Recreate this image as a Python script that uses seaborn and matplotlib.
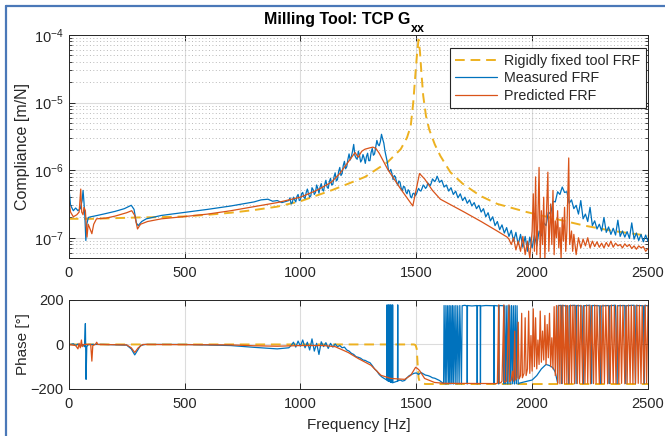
import numpy as np
import matplotlib
matplotlib.use("Agg")
import matplotlib.pyplot as plt
import seaborn as sns
from matplotlib.lines import Line2D
from matplotlib.ticker import LogLocator, NullFormatter

# ---- data (frequency [Hz], log10 compliance [m/N]) ----
rigid_mag = [(0, -6.72), (100, -6.72), (200, -6.71), (300, -6.70), (400, -6.695), (500, -6.685),
             (600, -6.66), (700, -6.63), (800, -6.59), (900, -6.54), (1000, -6.46), (1133, -6.30),
             (1200, -6.21), (1279, -6.10), (1377, -5.88), (1433, -5.69), (1460, -5.52), (1476, -5.35),
             (1487, -5.0), (1497, -4.55), (1504, -4.25), (1510, -4.07), (1516, -4.25), (1522, -4.55),
             (1530, -4.9), (1542, -5.2), (1556, -5.40), (1580, -5.62), (1604, -5.79), (1647, -6.03),
             (1700, -6.20), (1776, -6.38), (1850, -6.50), (1977, -6.62), (2100, -6.72),
             (2225, -6.82), (2350, -6.90), (2500, -6.97)]

measured_mag = [(0, -6.22), (8, -6.52), (20, -6.60), (30, -6.56), (40, -6.60), (50, -6.57), (58, -6.45),
                (62, -6.30), (66, -6.48), (70, -6.70), (74, -7.04), (78, -6.80), (85, -6.70), (95, -6.69),
                (110, -6.68), (150, -6.65), (200, -6.61), (240, -6.57), (270, -6.52), (282, -6.58),
                (292, -6.78), (300, -6.82), (315, -6.76), (335, -6.72), (400, -6.67), (490, -6.63),
                (600, -6.58), (700, -6.53), (750, -6.50), (800, -6.47), (830, -6.44), (860, -6.43),
                (880, -6.46), (900, -6.45), (920, -6.48), (940, -6.46),
                (950, -6.45), (960, -6.50), (970, -6.40), (980, -6.47), (990, -6.36), (1000, -6.44),
                (1010, -6.33), (1020, -6.42), (1030, -6.28), (1040, -6.40), (1050, -6.26), (1060, -6.36),
                (1070, -6.22), (1080, -6.34), (1090, -6.20), (1100, -6.31), (1110, -6.15), (1120, -6.27),
                (1130, -6.12), (1140, -6.21), (1150, -6.04), (1160, -6.14), (1170, -5.96), (1180, -6.05),
                (1190, -5.87), (1200, -5.95), (1210, -5.76), (1220, -5.80), (1230, -5.62), (1240, -5.82),
                (1250, -5.72), (1260, -5.88), (1270, -5.77), (1280, -5.90), (1290, -5.75), (1300, -5.86),
                (1310, -5.68), (1320, -5.76), (1330, -5.56), (1340, -5.64), (1350, -5.47), (1360, -5.60),
                (1370, -5.80), (1380, -6.00), (1390, -5.99), (1400, -6.14), (1410, -6.10), (1420, -6.22),
                (1430, -6.18), (1440, -6.30), (1450, -6.25), (1460, -6.35), (1470, -6.31), (1480, -6.41),
                (1490, -6.34), (1500, -6.36), (1510, -6.27), (1520, -6.31), (1530, -6.22), (1540, -6.27),
                (1550, -6.19), (1560, -6.23), (1570, -6.13), (1580, -6.17), (1590, -6.09), (1600, -6.18),
                (1610, -6.15), (1620, -6.25), (1630, -6.22), (1640, -6.31), (1650, -6.26), (1660, -6.36),
                (1670, -6.31), (1680, -6.41), (1690, -6.35), (1700, -6.45), (1710, -6.40), (1720, -6.49),
                (1730, -6.44), (1740, -6.53), (1750, -6.48), (1760, -6.57), (1770, -6.52), (1780, -6.62),
                (1790, -6.57), (1800, -6.69), (1810, -6.63), (1820, -6.75), (1830, -6.69), (1840, -6.82),
                (1850, -6.76), (1860, -6.88), (1870, -6.81), (1880, -6.93), (1890, -6.85), (1900, -6.98),
                (1910, -6.89), (1920, -7.05), (1930, -6.92), (1940, -7.10), (1950, -6.95), (1960, -7.14),
                (1970, -6.98), (1980, -7.20), (1990, -6.99), (2000, -7.15), (2010, -6.96), (2020, -7.12),
                (2030, -6.90), (2040, -6.97), (2050, -6.78), (2060, -6.82), (2070, -6.62), (2080, -6.65),
                (2090, -6.46), (2100, -6.47), (2110, -6.32), (2120, -6.36), (2130, -6.25), (2140, -6.33),
                (2150, -6.32), (2160, -6.49), (2170, -6.44), (2180, -6.57), (2190, -6.52), (2200, -6.65),
                (2210, -6.45), (2220, -6.72), (2230, -6.65), (2240, -6.76), (2250, -6.55), (2260, -6.82),
                (2270, -6.75), (2280, -6.87), (2290, -6.80), (2300, -6.90), (2310, -6.70), (2320, -6.92),
                (2330, -6.84), (2340, -6.95), (2350, -6.86), (2360, -6.96), (2370, -6.74), (2380, -6.98),
                (2390, -6.90), (2400, -6.99), (2410, -6.91), (2420, -7.01), (2430, -6.78), (2440, -7.02),
                (2450, -6.93), (2460, -7.04), (2470, -6.95), (2480, -7.06), (2490, -6.96), (2500, -7.05)]

# extra in-between samples of the noisy measured band (955 ... 1595 Hz)
measured_mag_fine = [(955, -6.41), (965, -6.48), (975, -6.44), (985, -6.39), (995, -6.45), (1005, -6.35),
                     (1015, -6.40), (1025, -6.33), (1035, -6.35), (1045, -6.38), (1055, -6.29),
                     (1065, -6.33), (1075, -6.27), (1085, -6.25), (1095, -6.29), (1105, -6.21),
                     (1115, -6.25), (1125, -6.17), (1135, -6.22), (1145, -6.10), (1155, -6.16),
                     (1165, -6.02), (1175, -6.08), (1185, -5.93), (1195, -5.98), (1205, -5.84),
                     (1215, -5.85), (1225, -5.72), (1235, -5.78), (1245, -5.84), (1255, -5.78),
                     (1265, -5.85), (1275, -5.82), (1285, -5.80), (1295, -5.86), (1305, -5.74),
                     (1315, -5.78), (1325, -5.66), (1335, -5.62), (1345, -5.58), (1355, -5.54),
                     (1365, -5.72), (1375, -5.88), (1385, -6.02), (1395, -6.05), (1405, -6.08),
                     (1415, -6.18), (1425, -6.16), (1435, -6.27), (1445, -6.24), (1455, -6.32),
                     (1465, -6.29), (1475, -6.39), (1485, -6.35), (1495, -6.38), (1505, -6.31),
                     (1515, -6.30), (1525, -6.27), (1535, -6.24), (1545, -6.25), (1555, -6.21),
                     (1565, -6.19), (1575, -6.15), (1585, -6.14), (1595, -6.13)]

predicted_mag = [(0, -6.43), (8, -6.62), (20, -6.69), (35, -6.66), (45, -6.62), (52, -6.28), (56, -6.62),
                 (62, -6.66), (66, -6.55), (72, -6.60), (79, -6.99), (84, -6.80), (90, -6.85), (100, -6.94),
                 (108, -6.80), (120, -6.72), (160, -6.71), (200, -6.68), (250, -6.63), (272, -6.60),
                 (285, -6.67), (297, -6.87), (310, -6.80), (340, -6.76), (400, -6.72), (490, -6.69),
                 (600, -6.65), (700, -6.60), (800, -6.54), (900, -6.48), (1000, -6.40), (1070, -6.30),
                 (1133, -6.18), (1170, -6.05), (1206, -5.88), (1236, -5.74), (1249, -5.81), (1265, -5.72),
                 (1279, -5.69), (1300, -5.67), (1313, -5.66), (1326, -5.68), (1340, -5.75), (1377, -5.99),
                 (1433, -6.28), (1485, -6.53), (1500, -6.28), (1514, -6.05), (1536, -6.13), (1570, -6.30),
                 (1604, -6.43), (1707, -6.62), (1780, -6.76), (1849, -6.90), (1892, -6.99),
                 (1900, -7.02), (1910, -7.10), (1920, -7.00), (1930, -7.18), (1940, -7.05), (1950, -7.20),
                 (1960, -6.98), (1970, -7.25), (1980, -7.05), (1990, -7.30), (2000, -6.90), (2005, -6.35),
                 (2010, -7.20), (2015, -6.10), (2020, -7.25), (2025, -6.70), (2030, -5.96), (2035, -7.30),
                 (2040, -6.60), (2045, -7.10), (2050, -6.40), (2055, -7.30), (2060, -6.80), (2068, -6.03),
                 (2072, -7.20), (2080, -6.50), (2085, -7.10), (2090, -6.30), (2095, -7.25), (2100, -6.75),
                 (2105, -7.00), (2110, -6.60), (2115, -7.15), (2120, -6.85), (2125, -7.30), (2130, -6.70),
                 (2135, -7.05), (2140, -6.55), (2145, -7.20), (2150, -6.90), (2158, -5.82), (2162, -7.10),
                 (2170, -6.90), (2175, -7.20), (2180, -6.95), (2190, -7.25), (2200, -7.00), (2210, -7.15),
                 (2220, -7.02), (2230, -7.12), (2240, -7.00), (2250, -7.15), (2260, -7.05), (2270, -7.13),
                 (2280, -7.06), (2290, -7.14), (2300, -7.08), (2310, -7.15), (2320, -7.07), (2330, -7.13),
                 (2340, -7.05), (2350, -7.14), (2360, -7.08), (2370, -7.12), (2380, -7.10), (2390, -7.15),
                 (2400, -7.09), (2410, -7.13), (2420, -7.10), (2430, -7.16), (2440, -7.12), (2450, -7.17),
                 (2460, -7.12), (2470, -7.15), (2480, -7.13), (2490, -7.20), (2500, -7.16)]

# ---- phase [deg] ----
rigid_phase = [(0, 0), (1490, 0), (1497, -3), (1502, -20), (1506, -90), (1510, -150), (1515, -168),
               (1525, -175), (1540, -178), (2500, -178)]

measured_phase = [(0, -2), (20, 3), (30, -5), (40, 2), (50, -8), (60, 0), (68, -10), (72, 94), (75, -157),
                  (78, -10), (85, 0), (150, 0), (250, -3), (270, -20), (285, -47), (295, -30), (310, -5),
                  (330, 0), (500, 0), (700, -5), (800, -13), (900, -20), (950, -15),
                  (960, -5), (970, 10), (980, -12), (990, 15), (1000, -8), (1010, 20), (1020, -15),
                  (1030, 10), (1040, -25), (1050, 25), (1060, -30), (1070, 5), (1080, -45), (1090, 12),
                  (1100, -10), (1110, 8), (1120, -18), (1130, 5), (1140, -12), (1150, 2), (1160, -10),
                  (1170, -5), (1180, -15), (1190, -12), (1200, -25), (1210, -30), (1220, -40), (1230, -45),
                  (1240, -55), (1250, -58), (1260, -62), (1270, -70), (1280, -72), (1290, -78), (1300, -82),
                  (1310, -95), (1320, -110), (1330, -120), (1340, -135), (1350, -145), (1360, -152),
                  (1370, -158), (1373, -160), (1374, 178), (1375, -162), (1379, -165), (1380, 178),
                  (1381, -165), (1385, -166), (1386, 178), (1387, -168), (1390, -170), (1391, 178),
                  (1392, -170), (1397, -172), (1398, 178), (1399, -172), (1410, -168), (1419, -165),
                  (1420, 178), (1421, -164), (1430, -160), (1440, -165), (1450, -162), (1460, -150),
                  (1470, -140), (1480, -135), (1490, -130), (1500, -128), (1510, -135), (1520, -126),
                  (1530, -132), (1540, -138), (1550, -140), (1560, -144), (1570, -150), (1580, -152),
                  (1590, -157), (1600, -162), (1610, -170), (1618, -176),
                  (1620, 175), (1625, -178), (1628, 175), (1632, -178), (1635, 174), (1640, -177),
                  (1642, 175), (1646, -178), (1649, 174), (1653, -177), (1656, 175), (1660, -178),
                  (1663, 174), (1668, -177), (1671, 175), (1676, -178), (1679, 174), (1685, -177),
                  (1688, 175), (1695, -178), (1698, 174), (1710, 176), (1719, 173), (1720, -178),
                  (1721, 175), (1740, 173), (1762, 175), (1763, -178), (1764, 174), (1776, 175),
                  (1777, -178), (1778, 173), (1800, 175), (1834, 174), (1835, -178), (1836, 175),
                  (1855, 173), (1856, -178), (1857, 175), (1877, 174), (1878, -178), (1879, 175),
                  (1885, -177), (1888, 174), (1893, -178), (1896, 175), (1900, -177), (1903, 174),
                  (1908, -178), (1911, 175), (1916, -177), (1919, 174), (1924, -178), (1927, 175),
                  (1932, -177), (1935, 174), (1940, -178), (1945, -174), (1960, -170), (1980, -165),
                  (2000, -160), (2020, -140), (2040, -110), (2060, -90), (2075, -95), (2090, -105),
                  (2100, -125), (2105, -150), (2110, -172), (2112, 174), (2125, 176), (2128, -176),
                  (2130, 175), (2150, 173), (2158, -176), (2160, 174), (2185, 176), (2190, -176),
                  (2192, 175), (2215, 173), (2222, -176), (2224, 174), (2250, 176), (2257, -176),
                  (2259, 175), (2290, 174), (2296, -176), (2298, 173), (2330, 175), (2333, -176),
                  (2335, 174), (2360, 176), (2367, -176), (2369, 174), (2400, 175), (2404, -176),
                  (2406, 174), (2440, 176), (2446, -176), (2448, 175), (2480, 174), (2484, -176),
                  (2486, 175), (2500, 174)]

predicted_phase = [(0, 0), (30, -5), (40, -20), (45, 5), (50, -15), (55, 20), (58, -10), (65, 0), (95, 0),
                   (100, -75), (104, -5), (115, 0), (121, 10), (125, 0), (250, -2), (270, -15), (285, -36),
                   (300, -15), (320, 0), (700, -2), (800, -6), (900, -8), (1000, -5), (1100, -5),
                   (1150, -10), (1206, -36), (1249, -63), (1305, -94), (1348, -139), (1391, -153),
                   (1450, -157), (1476, -139), (1490, -115), (1497, -103), (1505, -108), (1514, -117),
                   (1536, -153), (1579, -171), (1622, -175), (1849, -176),
                   (1850, -174), (1856, 178), (1858, -174), (1865, -172), (1870, -165), (1878, 178),
                   (1880, -170), (1890, -165), (1900, 178), (1902, -168), (1910, -160), (1915, -120),
                   (1920, -165), (1925, 60), (1928, -160), (1935, -150), (1940, 100), (1944, -155),
                   (1950, -140), (1955, 140), (1958, -150), (1965, -130), (1970, 120), (1974, -140),
                   (1980, -110), (1985, 150), (1990, -130), (1995, 40), (2000, -120), (2005, 160),
                   (2010, -100), (2015, 120), (2020, -110), (2025, 20), (2030, -90), (2035, 150),
                   (2040, -80), (2045, 60), (2050, -70), (2055, 130), (2060, -90), (2065, 90), (2070, -60),
                   (2075, 140), (2080, -100), (2085, 30), (2090, -110), (2095, 170), (2100, -140),
                   (2105, 175), (2110, -175), (2115, 176), (2120, -177), (2124, 175), (2130, -176),
                   (2133, 177), (2140, -175), (2145, 176), (2150, -177), (2153, 175), (2160, -176),
                   (2166, 177), (2170, -175), (2176, 176), (2183, -177), (2186, 175), (2195, -176),
                   (2199, 177), (2205, -175), (2210, 176), (2218, -177), (2222, 175), (2228, -176),
                   (2235, 177), (2240, -175), (2246, 176), (2252, -177), (2256, 175), (2265, -176),
                   (2270, 177), (2276, -175), (2280, 176), (2290, -177), (2294, 175), (2300, -176),
                   (2306, 177), (2312, -175), (2318, 176), (2326, -177), (2330, 175), (2337, -176),
                   (2342, 177), (2350, -175), (2355, 176), (2362, -177), (2368, 175), (2374, -176),
                   (2380, 177), (2386, -175), (2392, 176), (2400, -177), (2405, 175), (2410, -176),
                   (2416, 177), (2423, -175), (2428, 176), (2435, -177), (2440, 175), (2446, -176),
                   (2452, 177), (2458, -175), (2463, 176), (2470, -177), (2475, 175), (2482, -176),
                   (2488, 177), (2494, -175), (2500, 176)]

labels = ["Rigidly fixed tool FRF", "Measured FRF", "Predicted FRF"]
colors = ["#EDB120", "#0072BD", "#D95319"]

# ---- style ----
sns.set_theme(style="ticks")
plt.rcParams["font.family"] = ["Liberation Sans", "DejaVu Sans"]
plt.rcParams["mathtext.fontset"] = "custom"
plt.rcParams["mathtext.rm"] = "Liberation Sans"
ink = "#262626"

fig = plt.figure(figsize=(6.65, 4.36), dpi=100)
ax1 = fig.add_axes([0.1033, 0.408, 0.8711, 0.512])
ax2 = fig.add_axes([0.1033, 0.108, 0.8711, 0.204])


def draw(ax, series, log=False):
    for data, lab, col in zip(series, labels, colors):
        arr = np.array(sorted(data), dtype=float)
        f, v = arr[:, 0], arr[:, 1]
        if log:
            v = 10 ** v
        dashed = lab.startswith("Rigid")
        sns.lineplot(x=f, y=v, ax=ax, estimator=None, sort=False, color=col,
                     lw=1.4 if dashed else 0.9, linestyle=(0, (5, 3)) if dashed else "-",
                     label=lab)


draw(ax1, [rigid_mag, measured_mag + measured_mag_fine, predicted_mag], log=True)
draw(ax2, [rigid_phase, measured_phase, predicted_phase])

for ax in (ax1, ax2):
    ax.set_xlim(0, 2500)
    ax.set_xticks([0, 500, 1000, 1500, 2000, 2500])
    ax.tick_params(direction="in", top=True, right=True, labelsize=10.5, colors=ink,
                   length=4, width=0.7)
    ax.tick_params(axis="x", pad=6)
    ax.tick_params(which="minor", direction="in", right=True, left=True, length=2.5, width=0.6)
    for s in ax.spines.values():
        s.set_color(ink)
        s.set_linewidth(0.7)
    ax.grid(True, which="major", color="#dcdcdc", lw=0.8)
    ax.set_axisbelow(True)
    ax.set_xlabel("")

ax1.set_yscale("log")
ax1.set_ylim(5e-8, 1e-4)
ax1.yaxis.set_minor_locator(LogLocator(base=10, subs=np.arange(2, 10), numticks=20))
ax1.yaxis.set_minor_formatter(NullFormatter())
ax1.grid(True, which="minor", axis="y", color="#b8b8b8", lw=0.7, linestyle=(0, (1, 2.5)))
ax1.set_ylabel("Compliance [m/N]", fontsize=11.5, color=ink)
ax1.yaxis.set_label_coords(-0.066, 0.5)

ax2.set_ylim(-200, 200)
ax2.set_yticks([-200, 0, 200])
ax2.set_ylabel("Phase [°]", fontsize=11, color=ink)
ax2.yaxis.set_label_coords(-0.066, 0.5)
ax2.set_xlabel("Frequency [Hz]", fontsize=11, color=ink, labelpad=5)
ax2.get_legend().remove()

leg = ax1.legend(loc="upper right", bbox_to_anchor=(0.9965, 0.942), borderaxespad=0, fontsize=10.3,
                 frameon=True, fancybox=False, framealpha=1, edgecolor=ink, handlelength=2.9,
                 labelspacing=0.25, borderpad=0.4, handletextpad=0.5)
leg.get_frame().set_linewidth(0.8)

# title with a lowered bold subscript
fig.text(410 / 665, 1 - 24 / 436, "Milling Tool: TCP G", ha="right", va="baseline",
         fontsize=11.5, fontweight="bold", color="black")
fig.text(411 / 665, 1 - 32 / 436, "xx", ha="left", va="baseline",
         fontsize=9, fontweight="bold", color="black")

# slide frame
fig.add_artist(Line2D([6 / 665, 6 / 665], [0, 1 - 6 / 436], color="#4a78b8", lw=1.6))
fig.add_artist(Line2D([6 / 665, 1], [1 - 6 / 436, 1 - 6 / 436], color="#4a78b8", lw=1.6))

fig.savefig("out.png", dpi=100)
